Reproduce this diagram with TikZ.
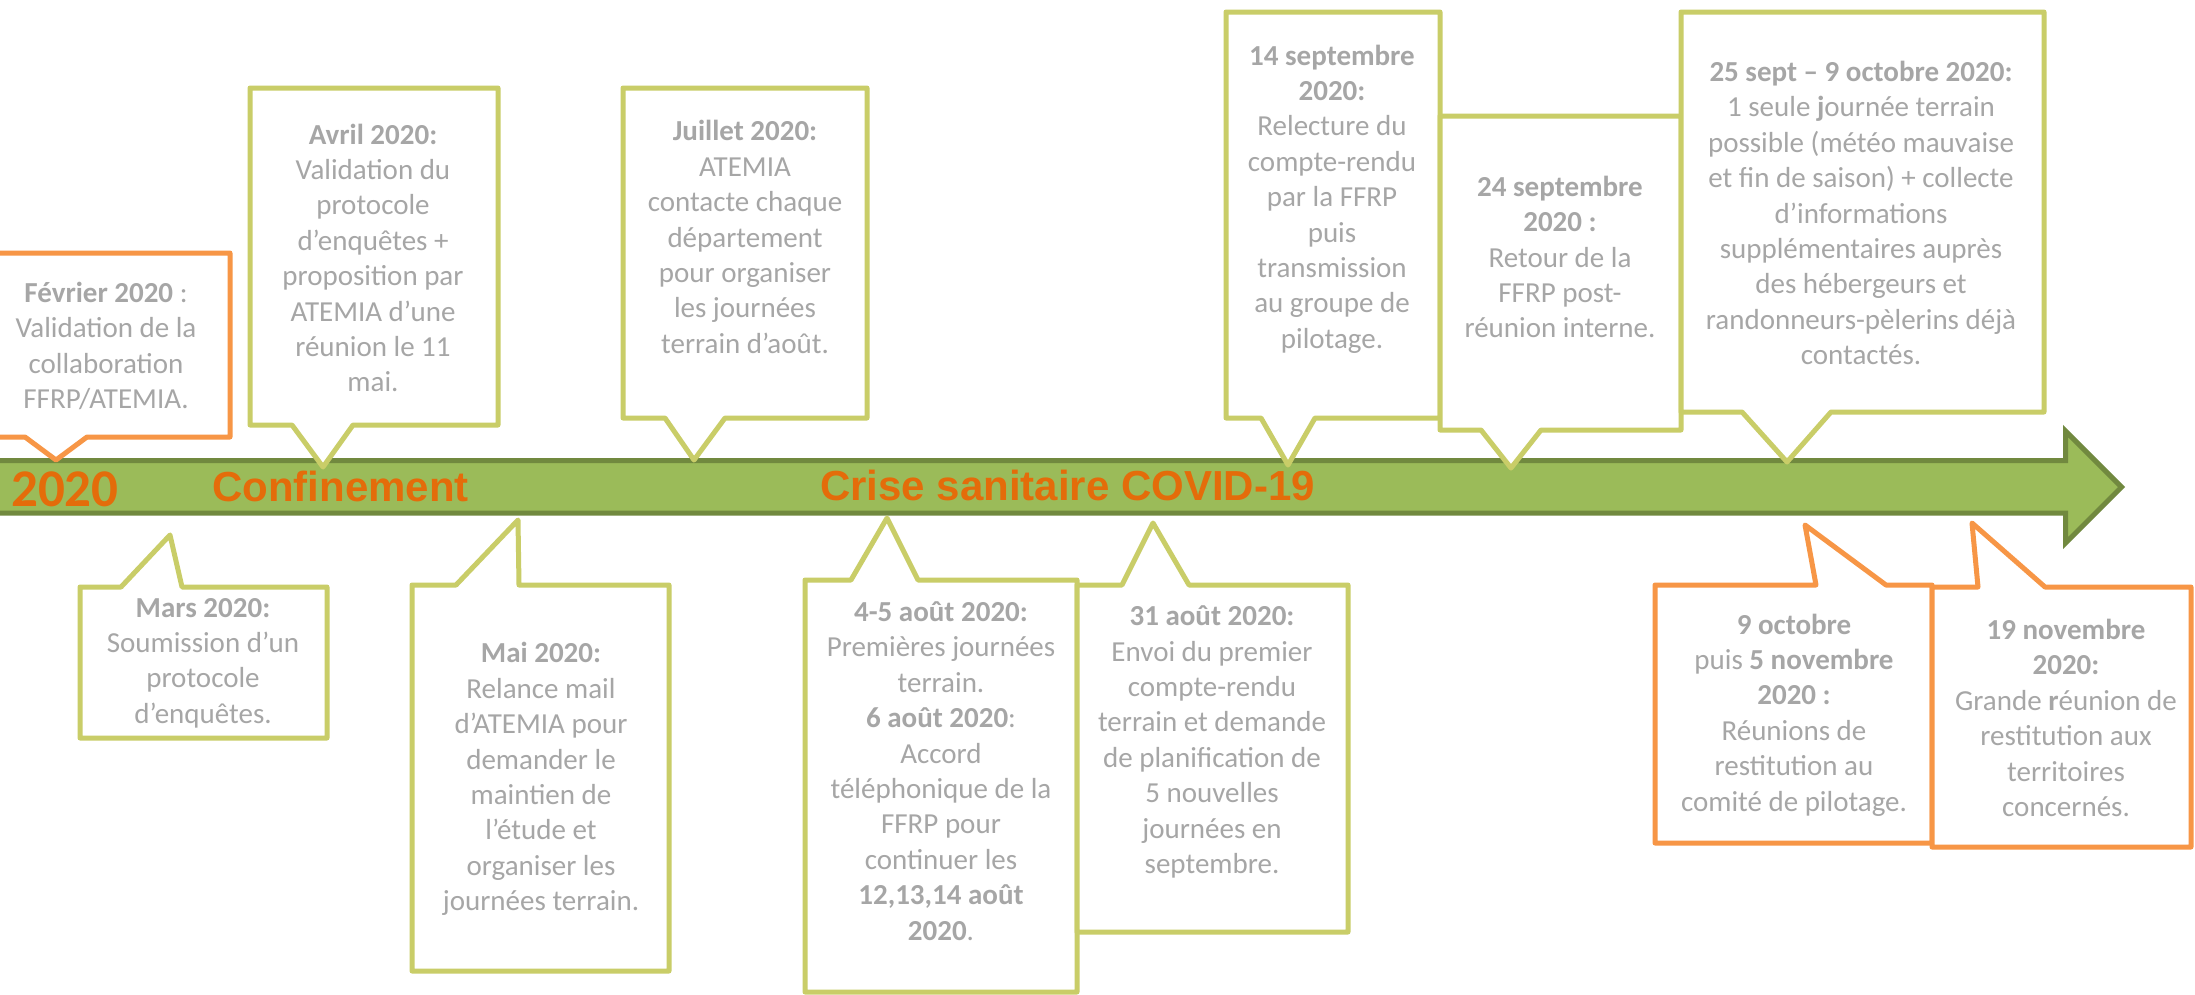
\documentclass[tikz,border=0pt]{standalone}
\usepackage{fontspec}
\setmainfont{Carlito}
\newfontfamily\arialfont{Liberation Sans}
\definecolor{cgreen}{HTML}{C9CD68}
\definecolor{corange}{HTML}{F79646}
\definecolor{afill}{HTML}{9BBB59}
\definecolor{aline}{HTML}{71893F}
\definecolor{tgray}{HTML}{A6A6A6}
\definecolor{torange}{HTML}{E46C0A}
\begin{document}
\begin{tikzpicture}[x=1pt,y=-1pt,
  callg/.style={draw=cgreen,line width=5pt,fill=white,line join=round},
  callo/.style={draw=corange,line width=5pt,fill=white,line join=round},
  txt/.style={align=center,text=tgray,font=\fontsize{29}{35.4}\selectfont,inner sep=0pt},
  atxt/.style={anchor=base west,inner sep=0pt,text=torange,font=\arialfont\bfseries\fontsize{42}{50}\selectfont}]
\clip (0,0) rectangle (2195,994);
\fill[white] (0,0) rectangle (2195,994);

% timeline arrow
\draw[fill=afill,draw=aline,line width=5pt,line join=miter]
  (-10,460.5) -- (2065.5,460.5) -- (2065.5,431) -- (2121.5,487) -- (2065.5,543) -- (2065.5,513) -- (-10,513) -- cycle;
\node[atxt,font=\bfseries\fontsize{53}{60}\selectfont] (y2020) at (11,506) {2020};
\node[atxt] (conf) at (212,501) {Confinement};
\node[atxt] (crise) at (820,500) {Crise sanitaire COVID-19};

% upper callouts
\draw[callo] (-18,253) -- (230,253) -- (230,437) -- (87,437) -- (56,460) -- (25,437) -- (-18,437) -- cycle;
\node[txt] (fev) at (106,346) {\textbf{Février 2020} :\\Validation de la\\collaboration\\FFRP/ATEMIA.};

\draw[callg] (250,88) -- (498,88) -- (498,425) -- (353,425) -- (323,467) -- (292,425) -- (250,425) -- cycle;
\node[txt] (avr) at (373,258) {\textbf{Avril 2020:}\\Validation du\\protocole\\d’enquêtes +\\proposition par\\ATEMIA d’une\\réunion le 11\\mai.};

\draw[callg] (623,88) -- (867,88) -- (867,418) -- (725,418) -- (694,460) -- (665,418) -- (623,418) -- cycle;
\node[txt] (juil) at (745,237) {\textbf{Juillet 2020:}\\ATEMIA\\contacte chaque\\département\\pour organiser\\les journées\\terrain d’août.};

\draw[callg] (1226,12) -- (1440,12) -- (1440,418) -- (1315,418) -- (1288,465) -- (1261,418) -- (1226,418) -- cycle;
\node[txt] (s14) at (1332,199) {\textbf{14 septembre}\\\textbf{2020:}\\Relecture du\\compte-rendu\\par la FFRP\\puis\\transmission\\au groupe de\\pilotage.};

\draw[callg] (1440,116) -- (1681,116) -- (1681,430) -- (1541,430) -- (1511,468) -- (1481,430) -- (1440,430) -- cycle;
\node[txt] (s24) at (1560,257) {\textbf{24 septembre}\\\textbf{2020 :}\\Retour de la\\FFRP post-\\réunion interne.};

\draw[callg] (1681,12) -- (2044,12) -- (2044,412) -- (1831,412) -- (1787,462) -- (1742,412) -- (1681,412) -- cycle;
\node[txt] (s25) at (1861,213) {\textbf{25 sept – 9 octobre 2020:}\\1 seule \textbf{j}ournée terrain\\possible (météo mauvaise\\et fin de saison) + collecte\\d’informations\\supplémentaires auprès\\des hébergeurs et\\randonneurs-pèlerins déjà\\contactés.};

% lower callouts
\draw[callg] (80,587) -- (121,587) -- (170,535) -- (182,587) -- (327,587) -- (327,738) -- (80,738) -- cycle;
\node[txt] (mars) at (203,663) {\textbf{Mars 2020:}\\Soumission d’un\\protocole\\d’enquêtes.};

\draw[callg] (412,585) -- (456,585) -- (518,520) -- (519,585) -- (669,585) -- (669,971) -- (412,971) -- cycle;
\node[txt] (mai) at (541,779) {\textbf{Mai 2020:}\\Relance mail\\d’ATEMIA pour\\demander le\\maintien de\\l’étude et\\organiser les\\journées terrain.};

\draw[callg] (805,580) -- (851,580) -- (887,518) -- (918,580) -- (1077,580) -- (1077,992) -- (805,992) -- cycle;
\node[txt] (a45) at (941,771) {\textbf{4-5 août 2020:}\\Premières journées\\terrain.\\\textbf{6 août 2020}:\\Accord\\téléphonique de la\\FFRP pour\\continuer les\\\textbf{12,13,14 août}\\\textbf{2020}.};

\draw[callg] (1077,585) -- (1122,585) -- (1153,523) -- (1189,585) -- (1348,585) -- (1348,932) -- (1077,932) -- cycle;
\node[txt] (a31) at (1212,742) {\textbf{31 août 2020:}\\Envoi du premier\\compte-rendu\\terrain et demande\\de planification de\\5 nouvelles\\journées en\\septembre.};

\draw[callo] (1655,585) -- (1816,585) -- (1805,525) -- (1886,585) -- (1932,585) -- (1932,843) -- (1655,843) -- cycle;
\node[txt] (o9) at (1794,715) {\textbf{9 octobre}\\puis \textbf{5 novembre}\\\textbf{2020 :}\\Réunions de\\restitution au\\comité de pilotage.};

\draw[callo] (1932,587) -- (1978,587) -- (1972,523) -- (2045,587) -- (2191,587) -- (2191,847) -- (1932,847) -- cycle;
\node[txt] (n19) at (2066,718) {\textbf{19 novembre}\\\textbf{2020:}\\Grande \textbf{r}éunion de\\restitution aux\\territoires\\concernés.};
\end{tikzpicture}
\end{document}
